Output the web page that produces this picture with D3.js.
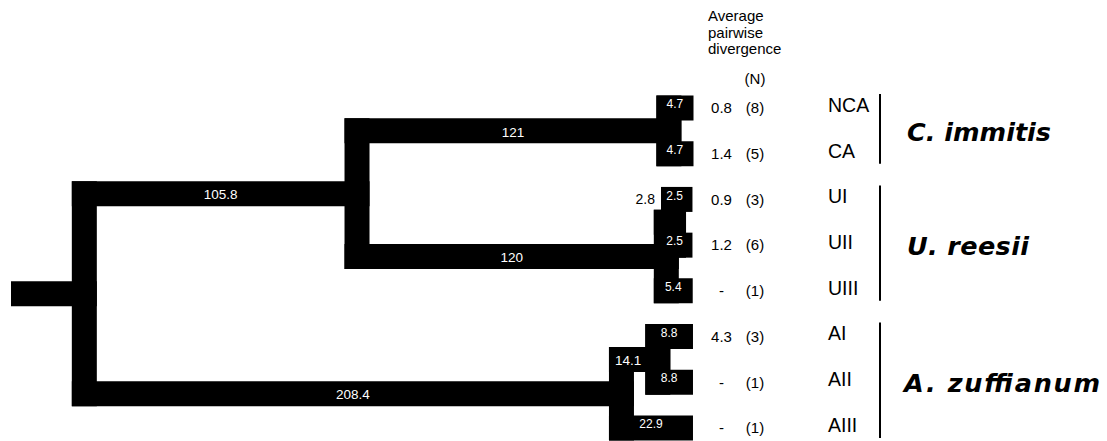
<!DOCTYPE html>
<html>
<head>
<meta charset="utf-8">
<script src="https://cdn.jsdelivr.net/npm/d3@7.9.0/dist/d3.min.js"></script>
<style>
  body { margin: 0; background: #fff; }
  svg { display: block; font-family: 'Liberation Sans', Arial, Helvetica, sans-serif; }
</style>
</head>
<body>
<div id="chart"></div>
<script>
// tree as an edge list: node, parent, branch length
const nodeIds = ['root', 'CU', 'C', 'U', 'U12', 'A', 'A12',
  'NCA', 'CA', 'UI', 'UII', 'UIII', 'AI', 'AII', 'AIII'];
const parentIds = ['', 'root', 'CU', 'CU', 'U', 'root', 'A',
  'C', 'C', 'U12', 'U12', 'U', 'A12', 'A12', 'A'];
const branchLengths = [0, 105.8, 121, 120, 2.8, 208.4, 14.1,
  4.7, 4.7, 2.5, 2.5, 5.4, 8.8, 8.8, 22.9];

// right-hand columns, in leaf order
const leafNames = ['NCA', 'CA', 'UI', 'UII', 'UIII', 'AI', 'AII', 'AIII'];
const divergence = ['0.8', '1.4', '0.9', '1.2', '-', '4.3', '-', '-'];
const sampleN = [8, 5, 3, 6, 1, 3, 1, 1];

const speciesNames = ['C. immitis', 'U. reesii', 'A. zuffianum'];
const speciesMembers = [['NCA', 'CA'], ['UI', 'UII', 'UIII'], ['AI', 'AII', 'AIII']];

const headerLines = ['Average', 'pairwise', 'divergence'];

const width = 1107;
const height = 441;
const stroke = 25;
const rootStub = 23.6;

const svg = d3.select('#chart')
  .append('svg')
  .attr('width', width)
  .attr('height', height);

svg.append('rect').attr('width', width).attr('height', height).attr('fill', '#fff');

const table = nodeIds.map((id, i) => ({ id, parent: parentIds[i], length: branchLengths[i] }));
const root = d3.stratify().id(d => d.id).parentId(d => d.parent || null)(table);

root.eachBefore(d => {
  d.dist = (d.parent ? d.parent.dist : 0) + d.data.length;
});
const maxDist = d3.max(root.leaves(), d => d.dist);

const xScale = d3.scaleLinear().domain([-rootStub, maxDist]).range([23.5, 681]);
const yScale = d3.scalePoint().domain(leafNames).range([108, 428]);

root.eachAfter(d => {
  d.px = xScale(d.dist);
  if (d.children) {
    d.py = (d.children[0].py + d.children[d.children.length - 1].py) / 2;
  } else {
    d.py = yScale(d.id);
  }
});

// branches
const g = svg.append('g')
  .attr('stroke', '#000')
  .attr('stroke-width', stroke)
  .attr('stroke-linecap', 'square')
  .attr('fill', 'none');

const line = d3.line();

// root stub
g.append('path').attr('d', line([[xScale(-rootStub), root.py], [root.px, root.py]]));

// horizontal branches
g.selectAll('path.h')
  .data(root.descendants().filter(d => d.parent))
  .join('path')
  .attr('class', 'h')
  .attr('d', d => line([[d.parent.px, d.py], [d.px, d.py]]));

// vertical connectors
g.selectAll('path.v')
  .data(root.descendants().filter(d => d.children))
  .join('path')
  .attr('class', 'v')
  .attr('d', d => line([[d.px, d.children[0].py],
    [d.px, d.children[d.children.length - 1].py]]));

// branch length labels
const labels = svg.append('g');
root.descendants().filter(d => d.parent).forEach(d => {
  const isLeaf = !d.children;
  const span = d.px - d.parent.px;
  const t = labels.append('text')
    .text(d.data.length)
    .attr('font-size', isLeaf ? 12 : 13.5)
    .attr('dy', '0.35em');
  if (!isLeaf && d.data.length < 3) {
    // too short to hold its label: put it outside, beside the first child
    t.attr('fill', '#000')
      .attr('text-anchor', 'end')
      .attr('font-size', 14)
      .attr('x', d.px - stroke / 2 - 6)
      .attr('y', d.children[0].py);
    return;
  }
  t.attr('fill', '#fff').attr('y', isLeaf ? d.py - 4 : d.py + 1);
  if (!isLeaf && span < 60) {
    t.attr('text-anchor', 'start').attr('x', d.parent.px - stroke / 2 + 6);
    return;
  }
  const w = t.node().getComputedTextLength();
  let cx = (d.parent.px + d.px) / 2;
  if (isLeaf) cx = Math.min(cx, d.px + 3 - w / 2);
  t.attr('text-anchor', 'middle').attr('x', cx);
});

// column header
const header = svg.append('g').attr('font-size', 15).attr('fill', '#000');
headerLines.forEach((s, i) => {
  header.append('text').attr('x', 708).attr('y', 21 + i * 16.5).text(s);
});
header.append('text').attr('x', 755).attr('y', 84).attr('text-anchor', 'middle').text('(N)');

// divergence and N columns
const cols = svg.append('g').attr('font-size', 15).attr('text-anchor', 'middle');
leafNames.forEach((name, i) => {
  const y = yScale(name);
  cols.append('text').attr('x', 721.5).attr('y', y).attr('dy', '0.35em').text(divergence[i]);
  cols.append('text').attr('x', 755).attr('y', y).attr('dy', '0.35em').text(`(${sampleN[i]})`);
  svg.append('text')
    .attr('x', 828)
    .attr('y', y - 3)
    .attr('dy', '0.35em')
    .attr('font-size', 19.5)
    .text(name);
});

// species brackets and names
const nameLengths = [144, 122, 196];
speciesNames.forEach((sp, i) => {
  const ys = speciesMembers[i].map(m => yScale(m));
  const y0 = d3.min(ys), y1 = d3.max(ys);
  svg.append('line')
    .attr('x1', 880).attr('x2', 880)
    .attr('y1', y0 - 14).attr('y2', y1 + 10)
    .attr('stroke', '#000')
    .attr('stroke-width', 2);
  svg.append('text')
    .attr('x', i === 2 ? 904 : 907)
    .attr('y', d3.mean(ys) + 1)
    .attr('dy', '0.35em')
    .attr('font-family', "'DejaVu Sans', sans-serif")
    .attr('font-size', 25.5)
    .attr('font-weight', 'bold')
    .attr('font-style', 'italic')
    .attr('textLength', nameLengths[i])
    .attr('lengthAdjust', 'spacing')
    .text(sp);
});
</script>
</body>
</html>
